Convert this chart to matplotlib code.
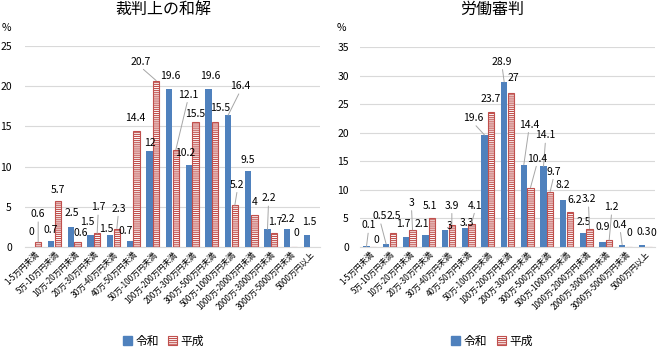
import numpy as np
import matplotlib
matplotlib.use("Agg")
import matplotlib.pyplot as plt
from matplotlib.patches import Patch

plt.rcParams['font.family'] = ['Noto Sans CJK JP', 'DejaVu Sans']
plt.rcParams['hatch.linewidth'] = 0.8

categories = ["1-5万円未満", "5万-10万円未満", "10万-20万円未満", "20万-30万円未満",
              "30万-40万円未満", "40万-50万円未満", "50万-100万円未満", "100万-200万円未満",
              "200万-300万円未満", "300万-500万円未満", "500万-1000万円未満",
              "1000万-2000万円未満", "2000万-3000万円未満", "3000万-5000万円未満",
              "5000万円以上"]

series_names = ["令和", "平成"]

# 裁判上の和解
wakai_reiwa = [0, 0.7, 2.5, 1.5, 1.5, 0.7, 12, 19.6, 10.2, 19.6, 16.4, 9.5, 2.2, 2.2, 1.5]
wakai_heisei = [0.6, 5.7, 0.6, 1.7, 2.3, 14.4, 20.7, 12.1, 15.5, 15.5, 5.2, 4, 1.7, 0, None]

# 労働審判
shinpan_reiwa = [0.1, 0.5, 1.7, 2.1, 3, 3.3, 19.6, 28.9, 14.4, 14.1, 8.2, 2.5, 0.9, 0.4, 0.3]
shinpan_heisei = [0, 2.5, 3, 5.1, 3.9, 4.1, 23.7, 27, 10.4, 9.7, 6.2, 3.2, 1.2, 0, 0]

titles = ["裁判上の和解", "労働審判"]
yticks_left = [0, 5, 10, 15, 20, 25]
yticks_right = [0, 5, 10, 15, 20, 25, 30, 35]

# label placement (pixel offsets of label centre from bar top) and leader flags
wakai_r_off = [(0, 15), (0, 11), (1, 14), (-3, 13), (-4, 6), (-4, 10), (0, 8), (1, 13),
               (-4, 12), (1.5, 13), (12, 29), (0, 11), (1, 31), (1, 10.5), (2.5, 13)]
wakai_h_off = [(0, 28), (0, 11), (3.5, 9.5), (1, 26), (1.5, 20), (-1.5, 13.5), (-16, 19),
               (12, 55), (0, 8), (5, 14), (2.5, 20.5), (0, 13), (1, 11.5), (3, 14), (0, 0)]
wakai_r_lead = {10, 12}
wakai_h_lead = {0, 3, 4, 6, 7, 10}

shinpan_r_off = [(2, 21), (-6, 28), (-3, 13), (-4, 11), (4, 4), (2, 5), (-11, 17), (-2, 20),
                 (5, 40), (2, 31), (0, 15), (0.5, 11), (0, 14.5), (-2, 20), (1.5, 13)]
shinpan_h_off = [(3.5, 7), (0.5, 17), (-1, 27), (-2, 12), (0, 19), (3.5, 18), (-1, 12.5),
                 (3, 15), (6.5, 29), (3.5, 20), (5, 12), (-1, 29.5), (2.5, 33), (1, 14), (5, 14.5)]
shinpan_r_lead = {0, 1, 6, 7, 8, 9, 13}
shinpan_h_lead = {2, 4, 5, 8, 9, 11, 12}

BLUE = '#4F81BD'
RED = '#C0504D'
GRID = '#D9D9D9'
LEAD = '#A6A6A6'

W, H = 657, 347
fig = plt.figure(figsize=(W / 100, H / 100), dpi=100)

axes_px = [(25, 295, 46, 247), (360, 295, 47, 247)]
chart_centers = [163.5, 492]


def fmt(v):
    return ('%g' % v)


def draw(ax, reiwa, heisei, yticks, r_off, h_off, r_lead, h_lead, pad):
    x = np.arange(len(categories))
    bw = 0.31
    off = 0.17
    r = np.array([np.nan if v is None else v for v in reiwa], dtype=float)
    h = np.array([np.nan if v is None else v for v in heisei], dtype=float)
    ax.bar(x - off, r, bw, color=BLUE, zorder=3)
    ax.bar(x + off, h, bw, color='white', edgecolor=RED, hatch='--------',
           linewidth=0.8, zorder=3)
    ax.set_xlim(-0.5, len(categories) - 0.5)
    ax.set_ylim(0, yticks[-1])
    ax.set_yticks(yticks)
    ax.grid(axis='y', color=GRID, linewidth=0.8, zorder=0)
    ax.set_axisbelow(True)
    for s in ['top', 'right', 'left']:
        ax.spines[s].set_visible(False)
    ax.spines['bottom'].set_color(GRID)
    ax.spines['bottom'].set_linewidth(0.8)
    ax.tick_params(axis='both', length=0)
    ax.tick_params(axis='y', labelsize=7.5, pad=pad, colors='#000000')
    ax.set_xticks(x)
    ax.set_xticklabels(categories, rotation=45, ha='right', rotation_mode='anchor',
                       fontsize=5.8)
    ax.tick_params(axis='x', pad=2)

    for vals, offs, leads, dxbar in [(r, r_off, r_lead, -off), (h, h_off, h_lead, off)]:
        for i, v in enumerate(vals):
            if np.isnan(v):
                continue
            dx, dy = offs[i]
            kw = {}
            if i in leads:
                kw['arrowprops'] = dict(arrowstyle='-', color=LEAD, lw=0.7,
                                        shrinkA=0, shrinkB=0, relpos=(0.5, 0.0))
            ax.annotate(fmt(v), xy=(i + dxbar, v), xytext=(dx, dy),
                        textcoords='offset pixels', ha='center', va='center',
                        fontsize=7.5, color='#000000', zorder=5, annotation_clip=False,
                        **kw)


data = [(wakai_reiwa, wakai_heisei, yticks_left, wakai_r_off, wakai_h_off,
         wakai_r_lead, wakai_h_lead, 9.5),
        (shinpan_reiwa, shinpan_heisei, yticks_right, shinpan_r_off, shinpan_h_off,
         shinpan_r_lead, shinpan_h_lead, 8)]

pct_x = [6, 341]
for k, (px, pw, ptop, pbot) in enumerate(axes_px):
    ax = fig.add_axes([px / W, 1 - pbot / H, pw / W, (pbot - ptop) / H])
    reiwa, heisei, yt, ro, ho, rl, hl, pad = data[k]
    draw(ax, reiwa, heisei, yt, ro, ho, rl, hl, pad)
    fig.text(chart_centers[k] / W, 1 - 9 / H, titles[k], ha='center', va='center',
             fontsize=11.5, color='#000000')
    fig.text(pct_x[k] / W, 1 - 28 / H, '%', ha='center', va='center', fontsize=7.5)
    handles = [Patch(facecolor=BLUE, edgecolor=BLUE),
               Patch(facecolor='white', edgecolor=RED, hatch='--------', linewidth=0.8)]
    fig.legend(handles, series_names, loc='center',
               bbox_to_anchor=(chart_centers[k] / W, 1 - 341 / H), ncol=2, frameon=False,
               fontsize=8.5, handlelength=0.75, handleheight=0.75, handletextpad=0.3,
               columnspacing=0.8, borderaxespad=0)

fig.savefig('out.png', dpi=100)
